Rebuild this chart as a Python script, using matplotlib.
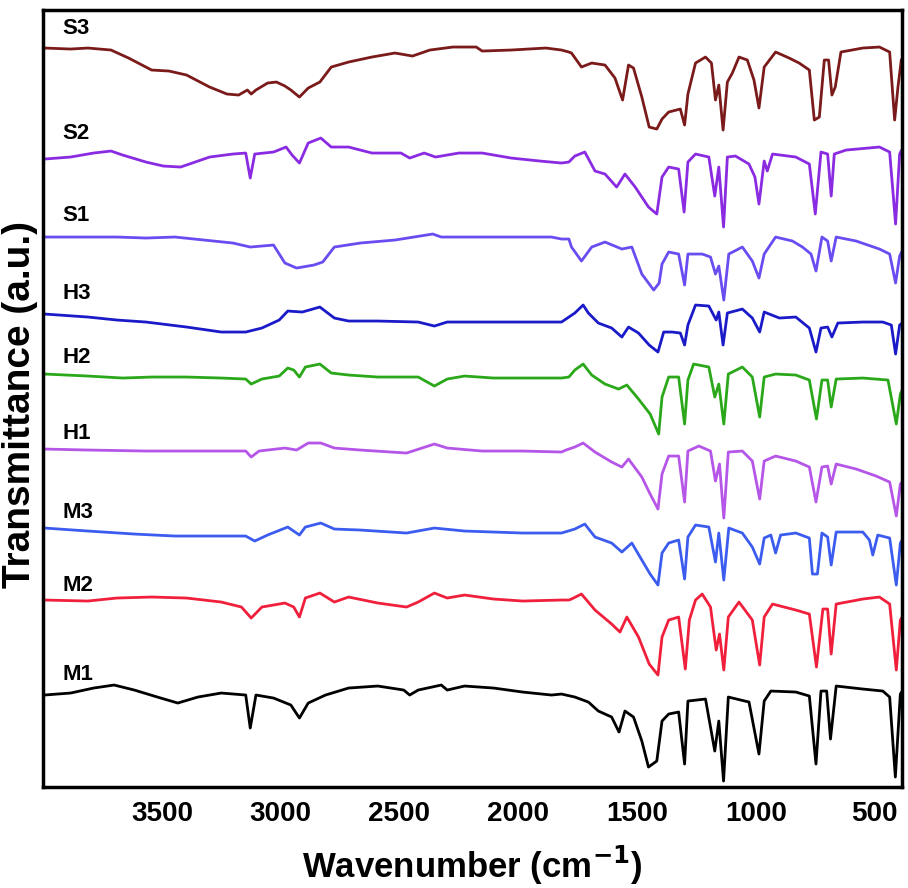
import matplotlib
matplotlib.use("Agg")
import matplotlib.pyplot as plt

plt.rcParams['font.family'] = ['Liberation Sans', 'DejaVu Sans']

# FTIR spectra, stacked (arbitrary units)
s3_wn = [3994, 3884, 3811, 3714, 3640, 3543, 3470, 3396, 3299, 3226, 3177, 3140, 3124, 3104, 3055, 3018,
         2982, 2957, 2921, 2884, 2835, 2787, 2714, 2616, 2519, 2445, 2372, 2275, 2177, 2152, 2030, 1884,
         1818, 1787, 1776, 1734, 1691, 1635, 1593, 1561, 1536, 1515, 1480, 1449, 1417, 1395, 1367, 1318,
         1300, 1286, 1254, 1212, 1187, 1170, 1156, 1138, 1120, 1099, 1071, 1036, 1008, 987, 965, 917,
         860, 818, 775, 754, 733, 712, 694, 680, 666, 642, 550, 480, 437, 416, 402, 388]
s3_t = [739, 738, 739, 737, 729, 717, 716, 712, 700, 693, 692, 697, 693, 697, 704, 705,
        701, 697, 690, 699, 705, 720, 725, 730, 734, 731, 737, 740, 740, 736, 737, 739,
        737, 735, 734, 720, 724, 722, 709, 687, 722, 719, 690, 660, 658, 668, 675, 678,
        662, 693, 724, 730, 724, 687, 702, 657, 705, 714, 730, 727, 707, 679, 720, 735,
        729, 724, 717, 667, 670, 727, 727, 692, 700, 735, 739, 740, 735, 667, 700, 727]

s2_wn = [3994, 3884, 3787, 3714, 3665, 3567, 3494, 3421, 3372, 3299, 3201, 3147, 3128, 3109, 3030, 2977,
         2952, 2921, 2884, 2831, 2787, 2714, 2616, 2494, 2457, 2396, 2348, 2250, 2152, 2030, 1909, 1818,
         1787, 1762, 1720, 1677, 1635, 1586, 1551, 1508, 1452, 1417, 1395, 1367, 1325, 1302, 1286, 1254,
         1198, 1173, 1156, 1136, 1120, 1086, 1029, 1004, 987, 965, 952, 930, 832, 775, 750, 726,
         698, 683, 670, 620, 480, 437, 412, 395, 384]
s2_t = [628, 630, 634, 636, 632, 625, 621, 620, 624, 630, 633, 634, 609, 633, 635, 640,
        632, 624, 644, 649, 640, 640, 634, 634, 629, 634, 630, 634, 634, 629, 626, 624,
        625, 631, 635, 616, 613, 600, 613, 600, 580, 573, 610, 620, 618, 575, 625, 633,
        630, 591, 620, 560, 630, 631, 623, 610, 583, 626, 616, 633, 630, 623, 573, 635,
        633, 591, 633, 637, 640, 635, 563, 633, 638]

s1_wn = [3994, 3811, 3689, 3567, 3445, 3323, 3201, 3128, 3030, 2982, 2933, 2860, 2823, 2774, 2665, 2519,
         2360, 2324, 2177, 2030, 1860, 1818, 1787, 1776, 1734, 1691, 1635, 1564, 1522, 1480, 1430, 1407,
         1395, 1367, 1325, 1300, 1286, 1226, 1191, 1170, 1156, 1135, 1114, 1057, 1015, 987, 965, 917,
         846, 804, 768, 747, 722, 698, 683, 662, 578, 480, 437, 412, 395, 384]
s1_t = [550, 550, 550, 549, 550, 547, 544, 540, 542, 524, 519, 522, 525, 540, 544, 547,
        553, 550, 550, 550, 550, 548, 548, 540, 526, 540, 545, 538, 540, 513, 497, 504,
        523, 535, 533, 502, 533, 533, 530, 513, 521, 487, 533, 540, 526, 509, 533, 550,
        546, 540, 533, 516, 550, 546, 526, 550, 546, 538, 533, 504, 531, 536]

h3_wn = [3994, 3811, 3689, 3567, 3396, 3250, 3147, 3079, 3006, 2970, 2909, 2835, 2774, 2714, 2591, 2421,
         2353, 2299, 2152, 1982, 1818, 1762, 1727, 1705, 1663, 1607, 1564, 1536, 1494, 1449, 1412, 1388,
         1353, 1318, 1300, 1286, 1254, 1198, 1167, 1156, 1138, 1120, 1057, 1015, 984, 965, 901, 832,
         775, 747, 726, 698, 680, 655, 550, 466, 430, 412, 395, 384]
h3_t = [473, 470, 467, 465, 460, 455, 455, 459, 467, 476, 475, 480, 469, 466, 466, 465,
        461, 465, 465, 465, 465, 474, 482, 474, 464, 459, 450, 460, 454, 442, 435, 455,
        455, 454, 442, 462, 482, 481, 467, 475, 442, 474, 478, 469, 455, 475, 469, 470,
        459, 435, 459, 460, 450, 464, 465, 465, 462, 433, 462, 464]

h2_wn = [3994, 3811, 3665, 3543, 3396, 3250, 3147, 3124, 3079, 3006, 2970, 2945, 2921, 2896, 2835, 2787,
         2714, 2591, 2421, 2353, 2299, 2226, 2104, 1933, 1818, 1787, 1762, 1727, 1691, 1635, 1578, 1543,
         1494, 1445, 1409, 1395, 1367, 1325, 1300, 1286, 1262, 1198, 1173, 1156, 1135, 1116, 1057, 1015,
         984, 965, 917, 832, 775, 745, 722, 698, 683, 662, 550, 444, 409, 392, 384]
h2_t = [413, 411, 409, 410, 410, 409, 408, 403, 408, 411, 419, 417, 410, 420, 423, 414,
        412, 410, 410, 401, 408, 411, 409, 409, 409, 410, 417, 423, 412, 403, 398, 402,
        388, 373, 353, 390, 410, 410, 363, 407, 423, 420, 390, 403, 363, 413, 420, 410,
        370, 410, 413, 412, 407, 368, 407, 407, 380, 408, 409, 407, 363, 393, 397]

h1_wn = [3994, 3811, 3567, 3323, 3147, 3124, 3091, 2982, 2933, 2884, 2831, 2774, 2665, 2470, 2353, 2299,
         2152, 1982, 1818, 1799, 1762, 1727, 1677, 1607, 1564, 1536, 1480, 1445, 1412, 1395, 1367, 1325,
         1300, 1286, 1240, 1191, 1170, 1153, 1135, 1116, 1057, 1015, 984, 965, 917, 832, 775, 747,
         722, 698, 683, 662, 578, 494, 437, 409, 392, 384]
h1_t = [338, 337, 336, 336, 336, 330, 336, 339, 337, 344, 344, 339, 337, 334, 343, 339,
        336, 336, 335, 337, 340, 344, 335, 325, 320, 328, 310, 293, 278, 313, 331, 331,
        285, 336, 341, 336, 306, 323, 269, 335, 336, 326, 288, 326, 331, 326, 320, 285,
        320, 321, 303, 323, 318, 311, 305, 271, 303, 305]

m3_wn = [3994, 3811, 3616, 3445, 3147, 3109, 3055, 2970, 2921, 2896, 2831, 2774, 2665, 2470, 2353, 2226,
         1982, 1818, 1762, 1720, 1677, 1607, 1564, 1522, 1480, 1445, 1412, 1395, 1367, 1325, 1300, 1286,
         1254, 1198, 1170, 1156, 1135, 1114, 1057, 1015, 984, 965, 937, 917, 896, 832, 775, 762,
         741, 722, 698, 683, 662, 550, 522, 508, 487, 437, 409, 392, 384]
m3_t = [259, 256, 253, 251, 251, 246, 252, 260, 252, 260, 264, 258, 257, 254, 259, 256,
        254, 254, 258, 263, 250, 244, 235, 244, 227, 213, 202, 234, 244, 247, 208, 250,
        262, 260, 225, 254, 207, 259, 254, 240, 223, 249, 252, 234, 252, 254, 249, 213,
        213, 254, 250, 222, 255, 255, 247, 232, 252, 249, 202, 244, 247]

m2_wn = [3994, 3811, 3689, 3543, 3396, 3250, 3165, 3124, 3079, 2982, 2945, 2921, 2896, 2835, 2774, 2714,
         2591, 2470, 2421, 2353, 2299, 2226, 2104, 1982, 1818, 1787, 1776, 1734, 1677, 1607, 1572, 1543,
         1494, 1449, 1412, 1395, 1367, 1325, 1297, 1280, 1254, 1226, 1191, 1167, 1153, 1135, 1116, 1071,
         1015, 984, 965, 930, 832, 775, 745, 718, 698, 683, 662, 550, 480, 437, 409, 392, 384]
m2_t = [187, 186, 189, 190, 189, 185, 180, 169, 180, 184, 180, 170, 189, 194, 185, 190,
        184, 180, 185, 194, 189, 192, 188, 186, 187, 187, 188, 193, 177, 163, 155, 170,
        150, 123, 112, 150, 167, 170, 118, 167, 187, 193, 180, 137, 153, 117, 170, 185,
        167, 122, 170, 183, 177, 173, 120, 178, 178, 133, 183, 188, 190, 183, 117, 167, 170]

m1_wn = [3994, 3884, 3787, 3701, 3616, 3519, 3433, 3348, 3250, 3147, 3128, 3104, 3030, 2957, 2921, 2884,
         2811, 2714, 2591, 2482, 2457, 2421, 2324, 2299, 2226, 2104, 1982, 1860, 1818, 1762, 1705, 1663,
         1607, 1576, 1551, 1515, 1480, 1452, 1417, 1395, 1367, 1325, 1300, 1286, 1212, 1173, 1156, 1136,
         1116, 1029, 987, 965, 937, 832, 775, 747, 726, 702, 686, 662, 550, 466, 437, 413, 392, 384]
m1_t = [92, 94, 99, 102, 97, 90, 84, 90, 94, 92, 59, 92, 89, 82, 69, 84,
        92, 99, 101, 97, 92, 97, 102, 97, 101, 99, 95, 92, 93, 90, 85, 76,
        70, 55, 76, 70, 46, 20, 26, 66, 73, 75, 23, 86, 88, 36, 66, 6,
        90, 85, 33, 86, 96, 95, 91, 23, 96, 96, 48, 101, 98, 96, 90, 10, 93, 96]

names = ['S3', 'S2', 'S1', 'H3', 'H2', 'H1', 'M3', 'M2', 'M1']
xticks = [3500, 3000, 2500, 2000, 1500, 1000, 500]

spectra = [(s3_wn, s3_t), (s2_wn, s2_t), (s1_wn, s1_t), (h3_wn, h3_t), (h2_wn, h2_t),
           (h1_wn, h1_t), (m3_wn, m3_t), (m2_wn, m2_t), (m1_wn, m1_t)]
colors = ['#7a1a1a', '#8a2be2', '#6a4cf0', '#1a1ac8', '#2aa81a', '#b556e8', '#3c5cf0', '#f0203c', 'black']
label_y = [759, 654, 572, 494, 430, 354, 275, 202, 113]

fig = plt.figure(figsize=(9.08, 8.88), dpi=100)
ax = fig.add_axes([0.0474, 0.1137, 0.9460, 0.8750])

for (wn, t), c, name, ly in zip(spectra, colors, names, label_y):
    ax.plot(wn, t, color=c, lw=2.0, solid_joinstyle='round')
    ax.text(3920, ly, name, fontsize=16, fontweight='bold', ha='left', va='center')

ax.set_xlim(4000, 385)
ax.set_ylim(0, 777)
ax.set_xticks(xticks)
ax.set_xticklabels([str(v) for v in xticks])
ax.set_yticks([])
ax.tick_params(axis='x', length=0, pad=10, labelsize=20)
for lab in ax.get_xticklabels():
    lab.set_fontweight('bold')
for sp in ax.spines.values():
    sp.set_linewidth(2.5)

ax.set_xlabel('Wavenumber (cm$^{\\mathbf{-1}}$)', fontsize=25, fontweight='bold', labelpad=12)
# y label sits in the narrow strip left of the frame
fig.text(0.022, 0.544, 'Transmittance (a.u.)', fontsize=28, fontweight='bold',
         rotation=90, ha='center', va='center')

fig.savefig('out.png', dpi=100)
